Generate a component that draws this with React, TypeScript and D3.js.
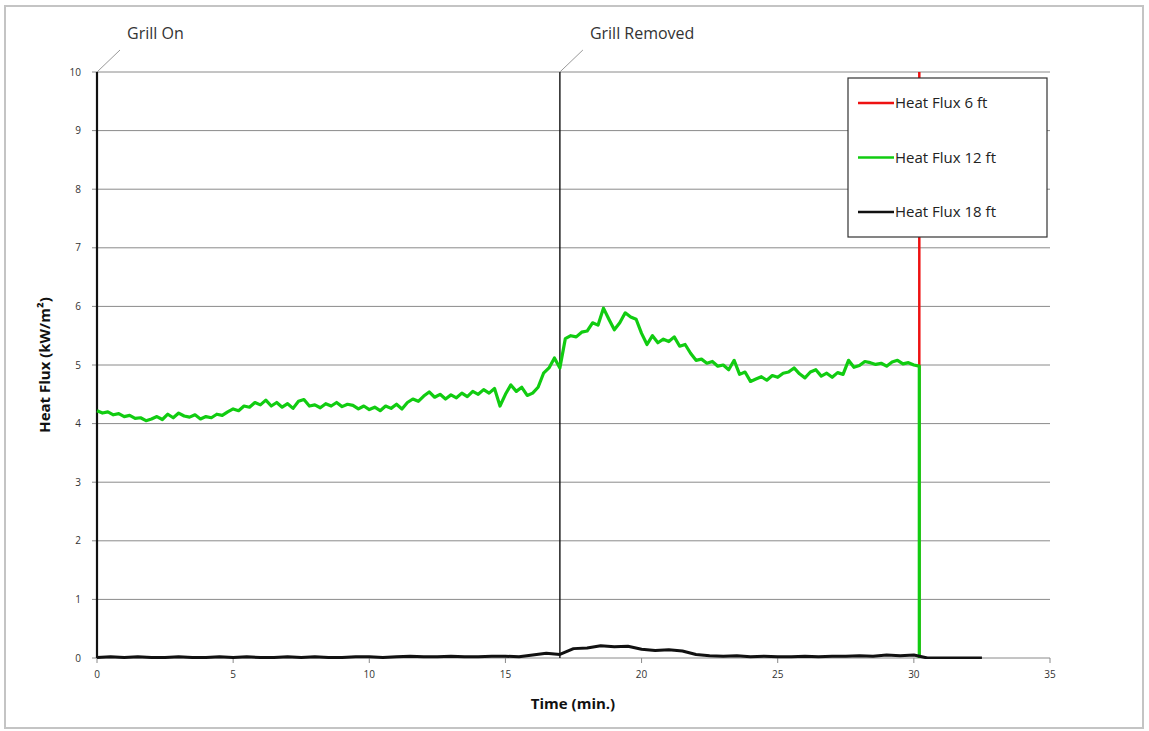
import React from 'react';
import * as d3 from 'd3';

// Heat flux 12 ft, sampled every 0.2 min from 0 to 30.2
const greenTimes: number[] = d3.range(0, 30.21, 0.2).map(t => Math.round(t * 10) / 10);
const greenValues: number[] = [
    4.22, 4.18, 4.2, 4.15, 4.17, 4.12, 4.14, 4.09, 4.1, 4.05, 4.08,
    4.12, 4.07, 4.16, 4.1, 4.18, 4.13, 4.11, 4.15, 4.08, 4.12,
    4.1, 4.16, 4.14, 4.2, 4.25, 4.22, 4.3, 4.28, 4.36, 4.32,
    4.4, 4.3, 4.36, 4.28, 4.34, 4.26, 4.38, 4.41, 4.3, 4.32,
    4.27, 4.34, 4.3, 4.36, 4.29, 4.33, 4.31, 4.25, 4.3, 4.24,
    4.28, 4.22, 4.3, 4.26, 4.33, 4.25, 4.36, 4.42, 4.38, 4.47,
    4.54, 4.45, 4.5, 4.42, 4.49, 4.44, 4.52, 4.46, 4.55, 4.5,
    4.58, 4.52, 4.6, 4.3, 4.5, 4.66, 4.55, 4.62, 4.48, 4.52,
    4.62, 4.86, 4.95, 5.12, 4.95, 5.45, 5.5, 5.48, 5.56, 5.58,
    5.72, 5.68, 5.97, 5.78, 5.6, 5.72, 5.89, 5.82, 5.78, 5.54,
    5.35, 5.5, 5.38, 5.44, 5.4, 5.48, 5.32, 5.35, 5.2, 5.08,
    5.1, 5.03, 5.06, 4.98, 5.0, 4.92, 5.08, 4.84, 4.88, 4.72,
    4.76, 4.8, 4.74, 4.82, 4.79, 4.86, 4.88, 4.95, 4.85, 4.78,
    4.88, 4.92, 4.81, 4.86, 4.79, 4.87, 4.84, 5.08, 4.96, 4.99,
    5.06, 5.04, 5.01, 5.03, 4.98, 5.05, 5.08, 5.02, 5.04, 5.0,
    4.98,
];
// sensor drop at the end of the test
const greenEndTime = 30.2;
const greenEndValue = 0;

// Heat flux 18 ft, every 0.5 min
const blackTimes: number[] = d3.range(0, 32.51, 0.5);
const blackValues: number[] = [
    0.01, 0.02, 0.01, 0.02, 0.01, 0.01, 0.02, 0.01, 0.01, 0.02, 0.01, 0.02,
    0.01, 0.01, 0.02, 0.01, 0.02, 0.01, 0.01, 0.02, 0.02, 0.01, 0.02, 0.03,
    0.02, 0.02, 0.03, 0.02, 0.02, 0.03, 0.03, 0.02, 0.05, 0.08,
    0.06, 0.16, 0.17, 0.21, 0.19, 0.2, 0.15, 0.13, 0.14, 0.12, 0.06, 0.04,
    0.03, 0.04, 0.02, 0.03, 0.02, 0.02, 0.03, 0.02, 0.03, 0.03, 0.04, 0.03,
    0.05, 0.04, 0.05,
    0, 0, 0, 0, 0,
];

// Heat flux 6 ft: flat, then off scale at 30.2
const redTimes: number[] = [0, 30.2, 30.2];
const redValues: number[] = [0, 0, 12];

const xTicks: number[] = [0, 5, 10, 15, 20, 25, 30, 35];
const yTicks: number[] = [0, 1, 2, 3, 4, 5, 6, 7, 8, 9, 10];

const events = [
    { time: 0, label: 'Grill On' },
    { time: 17, label: 'Grill Removed' },
];

const legendItems = [
    { label: 'Heat Flux 6 ft', color: '#ee1111' },
    { label: 'Heat Flux 12 ft', color: '#11cc11' },
    { label: 'Heat Flux 18 ft', color: '#111111' },
];

type Pt = [number, number];

export default function App() {
    const left = 97, right = 1050, top = 72, bottom = 658;
    const x = d3.scaleLinear().domain([0, 35]).range([left, right]);
    const y = d3.scaleLinear().domain([0, 10]).range([bottom, top]);
    const line = d3.line<Pt>().x(d => x(d[0])).y(d => y(d[1]));

    const green: Pt[] = greenTimes.map((t, i) => [t, greenValues[i]] as Pt);
    green.push([greenEndTime, greenEndValue]);
    const black: Pt[] = blackTimes.map((t, i) => [t, blackValues[i]] as Pt);
    const red: Pt[] = redTimes.map((t, i) => [t, redValues[i]] as Pt);

    const font = "'Open Sans', 'Noto Sans', sans-serif";

    return (
        <svg width={1149} height={731} style={{ position: 'absolute', left: 0, top: 0, background: '#fff' }}>
            <defs>
                <clipPath id="plot-clip">
                    <rect x={left - 2} y={top} width={right - left + 4} height={bottom - top + 1} />
                </clipPath>
                {/* the flat part of the 6 ft trace sits under the 18 ft one */}
                <clipPath id="red-clip">
                    <rect x={left - 2} y={top} width={right - left + 4} height={bottom - top - 2} />
                </clipPath>
            </defs>
            <rect x={5} y={6} width={1138} height={722} fill="#fff" stroke="#c4c4c4" strokeWidth={2} />

            {/* gridlines */}
            {yTicks.map(v => (
                <g key={`gy${v}`}>
                    <line x1={left - 5} x2={right} y1={y(v)} y2={y(v)} stroke="#8a8a8a" strokeWidth={1} />
                    <text x={left - 16} y={y(v) + 3.5} textAnchor="end" fontSize={10} fill="#333" fontFamily={font}>{v}</text>
                </g>
            ))}
            {xTicks.map(v => (
                <g key={`gx${v}`}>
                    <line x1={x(v)} x2={x(v)} y1={bottom} y2={bottom + 5} stroke="#8a8a8a" strokeWidth={1} />
                    <text x={x(v)} y={bottom + 20} textAnchor="middle" fontSize={10} fill="#333" fontFamily={font}>{v}</text>
                </g>
            ))}

            {/* event markers */}
            {events.map(e => (
                <g key={e.label}>
                    <line x1={x(e.time)} x2={x(e.time)} y1={top} y2={bottom} stroke="#111" strokeWidth={e.time === 0 ? 2.2 : 1.4} />
                    <line x1={x(e.time)} y1={top} x2={x(e.time) + 23} y2={top - 22} stroke="#999" strokeWidth={1} />
                    <text x={x(e.time) + 30} y={39} fontSize={16} fill="#333" fontFamily={font}>{e.label}</text>
                </g>
            ))}

            {/* series */}
            <g clipPath="url(#red-clip)">
                <path d={line(red) ?? ''} fill="none" stroke="#ee1111" strokeWidth={2.5} />
            </g>
            <g clipPath="url(#plot-clip)">
                <path d={line(green) ?? ''} fill="none" stroke="#11cc11" strokeWidth={3.2} strokeLinejoin="round" />
                <path d={line(black) ?? ''} fill="none" stroke="#111" strokeWidth={3} strokeLinejoin="round" />
            </g>

            {/* legend */}
            <g>
                <rect x={848} y={78} width={199} height={159} fill="#fff" stroke="#333" strokeWidth={1.2} />
                {legendItems.map((d, i) => (
                    <g key={d.label} transform={`translate(858, ${103 + i * 54.5})`}>
                        <line x1={0} x2={36} y1={0} y2={0} stroke={d.color} strokeWidth={2.5} />
                        <text x={37} y={5} fontSize={15} fill="#222" fontFamily={font}>{d.label}</text>
                    </g>
                ))}
            </g>

            {/* axis titles */}
            <text transform={`translate(50, ${(top + bottom) / 2}) rotate(-90)`} textAnchor="middle" fontSize={15} fontWeight="bold" fill="#111" fontFamily={font}>
                Heat Flux (kW/m²)
            </text>
            <text x={573} y={709} textAnchor="middle" fontSize={15} fontWeight="bold" fill="#111" fontFamily={font}>Time (min.)</text>
        </svg>
    );
}
